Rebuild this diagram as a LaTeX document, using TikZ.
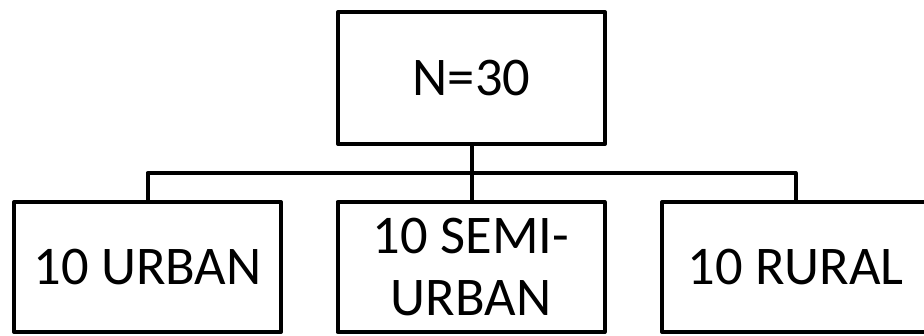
\documentclass[tikz,border=0pt]{standalone}
\usepackage{fontspec}
\setmainfont{Carlito}
\begin{document}
\begin{tikzpicture}[x=1pt,y=-1pt,
  box/.style={draw=black,line width=4pt,line join=round,inner sep=0pt,minimum width=267pt,align=center,font=\fontsize{54.5}{62}\selectfont},
  conn/.style={draw=black,line width=4pt,line join=round}]
\useasboundingbox (0,0) rectangle (924,335);
\clip (0,0) rectangle (924,335);
\node[box,minimum height=132pt] (top) at (471.5,78) {N=30};
\node[box,minimum height=130pt] (l) at (147.5,267) {10 URBAN};
\node[box,minimum height=130pt] (m) at (471,267) {10 SEMI-\\URBAN};
\node[box,minimum height=130pt] (r) at (795.5,267) {10 RURAL};
\coordinate (j) at (471.5,173);
\draw[conn] (top.south) -- (j) -- (j |- m.north);
\draw[conn] (l.north) |- (j) -| (r.north);
\end{tikzpicture}
\end{document}
